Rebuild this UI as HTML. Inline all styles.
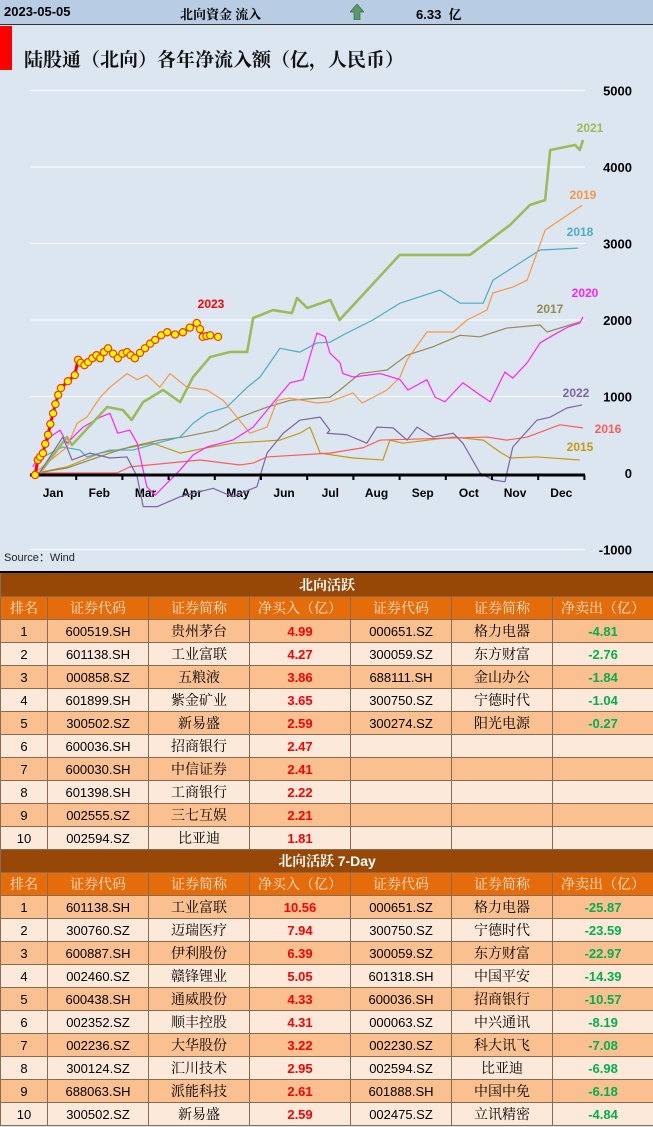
<!DOCTYPE html>
<html><head><meta charset="utf-8"><style>
body{margin:0;width:653px;height:1127px;overflow:hidden;background:#dce6f1;font-family:"Liberation Sans","Noto Sans CJK SC",sans-serif;position:relative}
#hdr{position:absolute;left:0;top:0;width:653px;height:24px;background:#b8cce4;border-bottom:1px solid #333;font-weight:bold;font-size:13px}
#hdr span{position:absolute;top:4px}
#chart{position:absolute;left:0;top:25px;width:653px;height:546px}
table{position:absolute;left:0;border-collapse:collapse;table-layout:fixed;width:653px}
td{border:1px solid #8a6a50;height:22px;padding:0;text-align:center;font-size:13px;white-space:nowrap;overflow:hidden}
.t td{background:#974806;color:#fff;font-weight:bold;font-family:"Noto Serif CJK SC",serif;font-size:14px}
.h td{background:#e46c0a;color:#fde9d9;font-family:"Noto Serif CJK SC",serif;font-size:14px}
.o td{background:#fac090}.e td{background:#fde9d9}
.n{font-family:"Noto Serif CJK SC",serif;font-size:14px}
.r{color:#ff0000;font-weight:bold}.g{color:#00b050;font-weight:bold}
</style></head><body>
<div id="hdr">
<span style="left:4px">2023-05-05</span>
<span style="left:180px;font-family:'Noto Serif CJK SC',serif">北向資金 流入</span>
<svg style="position:absolute;left:350px;top:4px" width="14" height="16"><path d="M7 0 L14 8 L10 8 L10 16 L4 16 L4 8 L0 8Z" fill="#5a9a6a" stroke="#3a6a4a" stroke-width="0.7"/></svg>
<span style="left:416px">6.33 &nbsp;<span style="position:static;font-family:'Noto Serif CJK SC',serif">亿</span></span>
</div>
<svg id="chart" width="653" height="546" viewBox="0 25 653 546">
<rect x="0" y="26" width="12" height="44" fill="#ff0000"/>
<text x="24" y="66" font-size="19" font-family="'Noto Serif CJK SC',serif" font-weight="bold" fill="#111">陆股通（北向）各年净流入额（亿，人民币）</text>
<g id="grid"></g><g id="ylab"></g><g id="xlab"></g><g id="series"></g>
<text x="4" y="561" font-size="11" fill="#222">Source：Wind</text>
</svg>
<table style="top:571px;border-top:2px solid #000">
<colgroup><col style="width:47px"><col style="width:101px"><col style="width:101px"><col style="width:101px"><col style="width:101px"><col style="width:101px"><col style="width:101px"></colgroup>
<tr class="t"><td colspan="7" style="height:23px">北向活跃</td></tr>
<tr class="h"><td>排名</td><td>证券代码</td><td>证券简称</td><td>净买入（亿）</td><td>证券代码</td><td>证券简称</td><td>净卖出（亿）</td></tr>
<tr class="o"><td>1</td><td>600519.SH</td><td class="n">贵州茅台</td><td class="r">4.99</td><td>000651.SZ</td><td class="n">格力电器</td><td class="g">-4.81</td></tr>
<tr class="e"><td>2</td><td>601138.SH</td><td class="n">工业富联</td><td class="r">4.27</td><td>300059.SZ</td><td class="n">东方财富</td><td class="g">-2.76</td></tr>
<tr class="o"><td>3</td><td>000858.SZ</td><td class="n">五粮液</td><td class="r">3.86</td><td>688111.SH</td><td class="n">金山办公</td><td class="g">-1.84</td></tr>
<tr class="e"><td>4</td><td>601899.SH</td><td class="n">紫金矿业</td><td class="r">3.65</td><td>300750.SZ</td><td class="n">宁德时代</td><td class="g">-1.04</td></tr>
<tr class="o"><td>5</td><td>300502.SZ</td><td class="n">新易盛</td><td class="r">2.59</td><td>300274.SZ</td><td class="n">阳光电源</td><td class="g">-0.27</td></tr>
<tr class="e"><td>6</td><td>600036.SH</td><td class="n">招商银行</td><td class="r">2.47</td><td></td><td></td><td></td></tr>
<tr class="o"><td>7</td><td>600030.SH</td><td class="n">中信证券</td><td class="r">2.41</td><td></td><td></td><td></td></tr>
<tr class="e"><td>8</td><td>601398.SH</td><td class="n">工商银行</td><td class="r">2.22</td><td></td><td></td><td></td></tr>
<tr class="o"><td>9</td><td>002555.SZ</td><td class="n">三七互娱</td><td class="r">2.21</td><td></td><td></td><td></td></tr>
<tr class="e"><td>10</td><td>002594.SZ</td><td class="n">比亚迪</td><td class="r">1.81</td><td></td><td></td><td></td></tr>
<tr class="t"><td colspan="7">北向活跃 <span style="font-family:'Liberation Sans',sans-serif">7-Day</span></td></tr>
<tr class="h"><td>排名</td><td>证券代码</td><td>证券简称</td><td>净买入（亿）</td><td>证券代码</td><td>证券简称</td><td>净卖出（亿）</td></tr>
<tr class="o"><td>1</td><td>601138.SH</td><td class="n">工业富联</td><td class="r">10.56</td><td>000651.SZ</td><td class="n">格力电器</td><td class="g">-25.87</td></tr>
<tr class="e"><td>2</td><td>300760.SZ</td><td class="n">迈瑞医疗</td><td class="r">7.94</td><td>300750.SZ</td><td class="n">宁德时代</td><td class="g">-23.59</td></tr>
<tr class="o"><td>3</td><td>600887.SH</td><td class="n">伊利股份</td><td class="r">6.39</td><td>300059.SZ</td><td class="n">东方财富</td><td class="g">-22.97</td></tr>
<tr class="e"><td>4</td><td>002460.SZ</td><td class="n">赣锋锂业</td><td class="r">5.05</td><td>601318.SH</td><td class="n">中国平安</td><td class="g">-14.39</td></tr>
<tr class="o"><td>5</td><td>600438.SH</td><td class="n">通威股份</td><td class="r">4.33</td><td>600036.SH</td><td class="n">招商银行</td><td class="g">-10.57</td></tr>
<tr class="e"><td>6</td><td>002352.SZ</td><td class="n">顺丰控股</td><td class="r">4.31</td><td>000063.SZ</td><td class="n">中兴通讯</td><td class="g">-8.19</td></tr>
<tr class="o"><td>7</td><td>002236.SZ</td><td class="n">大华股份</td><td class="r">3.22</td><td>002230.SZ</td><td class="n">科大讯飞</td><td class="g">-7.08</td></tr>
<tr class="e"><td>8</td><td>300124.SZ</td><td class="n">汇川技术</td><td class="r">2.95</td><td>002594.SZ</td><td class="n">比亚迪</td><td class="g">-6.98</td></tr>
<tr class="o"><td>9</td><td>688063.SH</td><td class="n">派能科技</td><td class="r">2.61</td><td>601888.SH</td><td class="n">中国中免</td><td class="g">-6.18</td></tr>
<tr class="e"><td>10</td><td>300502.SZ</td><td class="n">新易盛</td><td class="r">2.59</td><td>002475.SZ</td><td class="n">立讯精密</td><td class="g">-4.84</td></tr>
</table>
<script>
const yTicks=[5000,4000,3000,2000,1000,0,-1000];
const months=["Jan","Feb","Mar","Apr","May","Jun","Jul","Aug","Sep","Oct","Nov","Dec"];
// t = fractional month of year (0 = Jan 1)
const t2015=[0.15,0.8,1.52,2.66,3.25,3.83,4.39,5.41,5.84,6.06,6.28,6.99,7.64,7.79,8.07,9.16,9.81,10.17,10.39,10.97,11.9];
const v2015=[0,80,260,390,260,330,390,430,520,600,260,196,170,430,390,470,430,275,196,210,170];
const t2016=[0.15,1.88,2.16,3.68,4.55,4.83,5.13,6.49,7.21,7.58,9.89,10.32,10.76,11.47,11.97];
const v2016=[0,0,80,170,105,130,210,260,330,430,470,430,470,630,590];
const t2017=[0.15,0.8,1.73,2.16,2.81,3.31,4.05,4.55,5.13,5.63,6.49,6.71,7.14,7.73,8.16,8.72,9.31,9.74,10.32,11.04,11.19,11.9];
const v2017=[0,65,260,340,430,470,560,730,860,950,990,1085,1300,1346,1540,1650,1800,1780,1895,1935,1843,1975];
const t2018=[0.1,0.15,0.71,1.08,1.23,1.73,2.23,2.75,3.25,3.53,3.83,4.26,4.7,4.98,5.41,5.84,6.21,6.49,6.86,7.42,8.01,8.87,9.31,9.81,10.02,11.04,11.86];
const v2018=[0,170,340,300,210,300,300,390,470,650,780,860,1120,1255,1630,1580,1700,1710,1830,2000,2220,2390,2220,2220,2520,2915,2940];
const t2019=[0.1,0.8,1.02,1.23,1.52,1.73,2.1,2.32,2.53,2.81,3.03,3.4,3.83,4.18,4.48,4.76,5.13,5.35,5.63,6.21,6.49,6.99,7.19,7.73,8.01,8.16,8.59,9.16,9.46,9.89,10.02,10.45,10.76,11.15,11.95];
const v2019=[0,340,650,730,990,1120,1300,1220,1280,1120,1300,1120,1085,950,730,520,600,950,980,915,930,1046,915,1085,1255,1477,1843,1843,2000,2130,2353,2431,2520,3176,3500];
const t2020=[0.06,0.43,0.65,0.8,1.15,1.52,1.73,1.9,2.16,2.32,2.53,2.71,2.97,3.25,3.53,3.83,4.39,4.83,5.26,5.63,5.91,6.21,6.39,6.49,6.71,6.77,6.99,7.58,8.01,8.18,8.59,8.77,8.98,9.37,9.68,9.96,10.28,10.45,10.76,11.04,11.32,11.65,11.9,11.97];
const v2020=[80,470,560,390,600,730,780,520,560,390,-180,-290,-130,40,235,340,430,600,915,1180,1220,1830,1780,1570,1440,1300,1255,1300,1220,1085,1220,990,930,1180,1046,930,1320,1240,1440,1700,1800,1910,1960,2040];
const t2021=[0.15,0.8,0.91,1.67,2.01,2.2,2.45,2.88,3.25,3.53,3.9,4.33,4.7,4.83,5.26,5.67,5.78,6.0,6.5,6.7,8.0,9.52,9.96,10.39,10.82,11.15,11.26,11.8,11.9,11.97];
const v2021=[-50,470,366,863,823,693,928,1085,928,1255,1516,1582,1582,2026,2130,2090,2288,2157,2261,2000,2850,2850,3046,3242,3503,3569,4222,4288,4222,4353];
const t2022=[0.15,0.71,0.91,1.3,1.73,2.1,2.32,2.45,2.75,3.25,3.96,4.39,4.91,5.13,5.48,5.84,6.28,6.49,6.43,6.86,7.29,7.51,7.86,8.16,8.38,8.72,9.16,9.37,9.74,10.02,10.28,10.45,10.97,11.26,11.62,11.95];
const v2022=[-50,470,170,260,196,210,-50,-440,-440,-310,-200,-310,-180,260,520,690,730,560,520,500,390,600,590,430,600,470,520,390,0,-90,-115,340,690,730,850,890];
const t2023=[0.11,0.17,0.22,0.28,0.33,0.39,0.44,0.5,0.55,0.61,0.67,0.82,0.97,1.04,1.1,1.18,1.26,1.35,1.44,1.52,1.6,1.69,1.8,1.9,2.0,2.1,2.18,2.27,2.38,2.49,2.6,2.71,2.84,2.97,3.14,3.31,3.46,3.61,3.68,3.74,3.82,3.9,4.07];
const v2023=[-26,170,210,260,380,500,640,780,900,1020,1110,1200,1280,1480,1440,1410,1450,1500,1540,1500,1580,1630,1560,1500,1560,1580,1540,1500,1570,1630,1690,1740,1800,1840,1810,1840,1900,1960,1880,1780,1790,1800,1780];
const years=["2015","2016","2017","2018","2019","2020","2021","2022","2023"];
const T=[t2015,t2016,t2017,t2018,t2019,t2020,t2021,t2022,t2023];
const V=[v2015,v2016,v2017,v2018,v2019,v2020,v2021,v2022,v2023];
const colors=["#c59a10","#ff5b5b","#948a54","#4bacc6","#f79646","#ff22ff","#9bbb59","#8064a2","#ff0000"];
const widths=[1.2,1.2,1.2,1.2,1.2,1.2,2.6,1.2,3];
const labelPos=[[580,451],[608,433],[550,313],[580,236],[583,199],[585,297],[590,132],[576,397],[211,308]];
const NS="http://www.w3.org/2000/svg";
function X(t){return 30+t*46.2;}
function Y(v){return 473-v*0.0765;}
function mk(tag,attrs,parent){const e=document.createElementNS(NS,tag);for(const k in attrs)e.setAttribute(k,attrs[k]);parent.appendChild(e);return e;}
const grid=document.getElementById('grid'),ylab=document.getElementById('ylab'),xlab=document.getElementById('xlab'),ser=document.getElementById('series');
yTicks.forEach(v=>{
 if(v!==0){const l=mk('line',{x1:30,x2:585,y1:Y(v),y2:Y(v),stroke:'#fff','stroke-width':1},grid);
 
 }
 const tx=mk('text',{x:632,y:Y(v)+5,'text-anchor':'end','font-size':13,'font-weight':'bold',fill:'#000'},ylab);
 tx.textContent=v;
 
 
});
months.forEach((m,i)=>{
 const tx=mk('text',{x:X(i+0.5),y:497,'text-anchor':'middle','font-size':12,'font-weight':'bold',fill:'#000'},xlab);
 tx.textContent=m;
 
 
});
T.forEach((ts,k)=>{
 const vs=V[k];
 const p=mk('polyline',{points:ts.map((t,i)=>X(t)+','+Y(vs[i])).join(' '),fill:'none',stroke:colors[k],'stroke-width':widths[k],'stroke-linejoin':'round'},ser);
 
 
 const lb=mk('text',{x:labelPos[k][0],y:labelPos[k][1],'text-anchor':'middle','font-size':12,'font-weight':'bold',fill:colors[k]},ser);
 lb.textContent=years[k];
 
 
});
const ax=mk('line',{x1:30,x2:585,y1:475,y2:475,stroke:'#000','stroke-width':3},ser);


for(let i=1;i<=12;i++){const tk=mk('line',{x1:X(i),x2:X(i),y1:475,y2:480,stroke:'#000','stroke-width':2},ser);
 
 }
t2023.forEach((t,i)=>{
 const c=mk('circle',{cx:X(t),cy:Y(v2023[i]),r:3.6,fill:'#ffff00',stroke:'#ff3300','stroke-width':1.2},ser);
 
 
});
</script>
</body></html>
